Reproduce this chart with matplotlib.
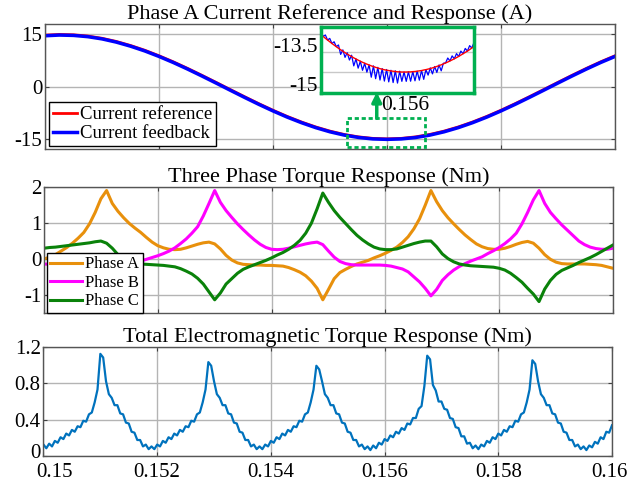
import numpy as np
import matplotlib.pyplot as plt
from matplotlib.patches import Rectangle
from matplotlib.transforms import ScaledTranslation

plt.rcParams['font.family'] = ['Liberation Serif', 'DejaVu Serif']

# ---- data ----
x_ticks = [0.15, 0.152, 0.154, 0.156, 0.158, 0.16]
x_tick_labels = ['0.15', '0.152', '0.154', '0.156', '0.158', '0.16']

# phase A current, 0.25 ms samples
t_cur = np.linspace(0.15, 0.16, 41)
current_ref = [14.80, 15.00, 14.90, 14.54, 13.90, 12.99, 11.83, 10.46, 8.88, 7.14,
               5.26, 3.28, 1.24, -0.83, -2.88, -4.88, -6.78, -8.56, -10.16, -11.58,
               -12.78, -13.74, -14.43, -14.86, -15.00, -14.86, -14.43, -13.73, -12.78, -11.58,
               -10.16, -8.55, -6.77, -4.87, -2.87, -0.82, 1.25, 3.29, 5.27, 7.15, 8.88]
current_fb = [14.62, 14.82, 14.72, 14.36, 13.72, 12.80, 11.63, 10.26, 8.68, 6.94,
              5.06, 3.08, 1.04, -1.03, -3.08, -5.08, -6.98, -8.76, -10.36, -11.78,
              -12.98, -13.92, -14.60, -15.02, -15.15, -15.02, -14.62, -13.93, -12.98, -11.78,
              -10.36, -8.75, -6.97, -5.07, -3.07, -1.02, 1.05, 3.09, 5.07, 6.95, 8.68]

# zoomed window around the current minimum
zoom_t = np.linspace(0.15487, 0.15693, 71)
zoom_ref = [-12.19, -12.33, -12.47, -12.60, -12.73, -12.86, -12.98, -13.10, -13.22, -13.33,
            -13.44, -13.55, -13.65, -13.75, -13.84, -13.94, -14.02, -14.11, -14.19, -14.27,
            -14.34, -14.41, -14.47, -14.54, -14.59, -14.65, -14.70, -14.75, -14.79, -14.83,
            -14.86, -14.89, -14.92, -14.94, -14.96, -14.98, -14.99, -15.00, -15.00, -15.00,
            -14.99, -14.99, -14.97, -14.96, -14.94, -14.91, -14.89, -14.85, -14.82, -14.78,
            -14.74, -14.69, -14.64, -14.58, -14.52, -14.46, -14.39, -14.32, -14.25, -14.17,
            -14.09, -14.01, -13.92, -13.83, -13.73, -13.63, -13.53, -13.43, -13.32, -13.20, -13.08]
zoom_fb = [-11.94, -12.33, -12.22, -12.60, -12.48, -12.86, -12.73, -13.10, -12.97, -13.68,
           -13.34, -13.90, -13.55, -14.10, -13.74, -14.54, -14.02, -14.71, -14.19, -14.87,
           -14.34, -15.01, -14.47, -15.39, -14.54, -15.50, -14.65, -15.60, -14.74, -15.68,
           -14.81, -15.74, -14.87, -15.79, -14.91, -15.83, -14.94, -15.70, -15.00, -15.70,
           -14.99, -15.69, -14.97, -15.66, -14.94, -15.61, -14.89, -15.55, -14.82, -15.23,
           -14.69, -15.14, -14.59, -15.03, -14.47, -14.91, -14.34, -14.32, -13.95, -14.17,
           -13.79, -14.01, -13.62, -13.83, -13.43, -13.63, -13.23, -13.43, -13.02, -13.20, -12.78]
zoom_box = (0.1553, 0.15667, -17.2, -9.1)

# phase torques, 0.1 ms samples
t_phase = np.linspace(0.15, 0.16, 101)
torque_a = [0.00, 0.05, 0.12, 0.22, 0.32, 0.44, 0.58, 0.74, 0.98, 1.30,
            1.68, 1.91, 1.55, 1.33, 1.15, 0.99, 0.86, 0.74, 0.60, 0.47,
            0.37, 0.31, 0.27, 0.26, 0.27, 0.31, 0.36, 0.41, 0.45, 0.47,
            0.42, 0.28, 0.10, -0.03, -0.11, -0.15, -0.16, -0.17, -0.17, -0.18,
            -0.18, -0.19, -0.20, -0.24, -0.30, -0.37, -0.47, -0.62, -0.82, -1.14,
            -0.85, -0.55, -0.38, -0.29, -0.21, -0.14, -0.09, -0.04, 0.03, 0.09,
            0.16, 0.24, 0.33, 0.46, 0.62, 0.84, 1.12, 1.50, 1.91, 1.60,
            1.35, 1.15, 0.98, 0.82, 0.67, 0.54, 0.42, 0.34, 0.29, 0.27,
            0.27, 0.30, 0.35, 0.41, 0.46, 0.49, 0.44, 0.30, 0.12, -0.01,
            -0.09, -0.13, -0.14, -0.14, -0.14, -0.14, -0.15, -0.16, -0.18, -0.22, -0.26]
torque_b = [-0.14, -0.15, -0.16, -0.17, -0.19, -0.23, -0.29, -0.37, -0.48, -0.63,
            -0.83, -1.04, -0.75, -0.45, -0.30, -0.20, -0.12, -0.06, -0.01, 0.04,
            0.09, 0.15, 0.22, 0.31, 0.43, 0.56, 0.72, 0.90, 1.20, 1.55,
            1.91, 1.58, 1.35, 1.16, 0.98, 0.82, 0.67, 0.53, 0.41, 0.32,
            0.27, 0.26, 0.27, 0.30, 0.34, 0.38, 0.42, 0.45, 0.47, 0.40,
            0.22, 0.05, -0.07, -0.13, -0.16, -0.17, -0.17, -0.17, -0.17, -0.17,
            -0.18, -0.20, -0.24, -0.28, -0.36, -0.50, -0.64, -0.82, -1.03, -0.85,
            -0.60, -0.44, -0.31, -0.21, -0.13, -0.06, 0.00, 0.06, 0.15, 0.23,
            0.32, 0.43, 0.56, 0.72, 0.98, 1.30, 1.65, 1.91, 1.55, 1.30,
            1.12, 0.95, 0.80, 0.65, 0.50, 0.40, 0.33, 0.29, 0.27, 0.27, 0.30]
torque_c = [0.30, 0.32, 0.33, 0.35, 0.37, 0.39, 0.41, 0.43, 0.45, 0.48,
            0.50, 0.44, 0.30, 0.12, -0.01, -0.09, -0.13, -0.14, -0.15, -0.16,
            -0.17, -0.18, -0.20, -0.22, -0.27, -0.34, -0.42, -0.54, -0.70, -0.92,
            -1.14, -0.95, -0.70, -0.55, -0.40, -0.29, -0.22, -0.16, -0.10, -0.04,
            0.03, 0.11, 0.18, 0.27, 0.38, 0.52, 0.72, 1.00, 1.40, 1.84,
            1.58, 1.35, 1.16, 0.99, 0.82, 0.66, 0.53, 0.42, 0.33, 0.28,
            0.26, 0.26, 0.28, 0.33, 0.38, 0.43, 0.47, 0.50, 0.50, 0.34,
            0.14, 0.01, -0.08, -0.14, -0.17, -0.19, -0.20, -0.21, -0.22, -0.23,
            -0.26, -0.31, -0.40, -0.52, -0.65, -0.82, -0.98, -1.19, -0.84, -0.60,
            -0.43, -0.32, -0.25, -0.18, -0.10, -0.03, 0.04, 0.12, 0.21, 0.30, 0.39]

# total torque, 0.05 ms samples
t_total = np.linspace(0.15, 0.16, 201)
torque_total = [0.13, 0.09, 0.14, 0.11, 0.17, 0.15, 0.21, 0.19, 0.25, 0.23,
                0.29, 0.27, 0.33, 0.32, 0.39, 0.38, 0.46, 0.48, 0.59, 0.73,
                1.12, 1.08, 0.82, 0.68, 0.64, 0.56, 0.56, 0.47, 0.46, 0.37,
                0.36, 0.27, 0.26, 0.18, 0.18, 0.11, 0.13, 0.08, 0.11, 0.08,
                0.13, 0.11, 0.17, 0.15, 0.21, 0.19, 0.25, 0.23, 0.29, 0.27,
                0.33, 0.32, 0.39, 0.38, 0.46, 0.48, 0.59, 0.73, 1.03, 0.99,
                0.82, 0.68, 0.64, 0.56, 0.56, 0.47, 0.46, 0.37, 0.36, 0.27,
                0.26, 0.18, 0.18, 0.11, 0.13, 0.08, 0.11, 0.08, 0.13, 0.11,
                0.17, 0.15, 0.21, 0.19, 0.25, 0.23, 0.29, 0.27, 0.33, 0.32,
                0.39, 0.38, 0.46, 0.48, 0.59, 0.73, 0.99, 0.95, 0.82, 0.68,
                0.64, 0.56, 0.56, 0.47, 0.46, 0.37, 0.36, 0.27, 0.26, 0.18,
                0.18, 0.11, 0.13, 0.08, 0.11, 0.07, 0.12, 0.09, 0.15, 0.13,
                0.19, 0.17, 0.23, 0.21, 0.27, 0.25, 0.31, 0.29, 0.36, 0.35,
                0.42, 0.42, 0.52, 0.55, 0.77, 1.10, 1.06, 0.78, 0.72, 0.60,
                0.60, 0.52, 0.51, 0.42, 0.41, 0.32, 0.31, 0.22, 0.22, 0.14,
                0.15, 0.09, 0.12, 0.08, 0.13, 0.11, 0.17, 0.15, 0.21, 0.19,
                0.25, 0.23, 0.29, 0.27, 0.33, 0.32, 0.39, 0.38, 0.46, 0.48,
                0.59, 0.73, 1.05, 1.01, 0.82, 0.68, 0.64, 0.56, 0.56, 0.47,
                0.46, 0.37, 0.36, 0.27, 0.26, 0.18, 0.18, 0.11, 0.13, 0.08,
                0.11, 0.07, 0.12, 0.10, 0.16, 0.14, 0.21, 0.19, 0.27, 0.26, 0.34]

GREEN = '#00B050'


def style_axes(ax, yticks, ylabels, ylim, show_x=False):
    ax.set_xlim(0.15, 0.16)
    ax.set_ylim(*ylim)
    ax.set_xticks(x_ticks)
    ax.set_xticklabels(x_tick_labels)
    ax.set_yticks(yticks)
    ax.set_yticklabels(ylabels)
    ax.grid(True, color='#b4b4b4', lw=1)
    ax.set_axisbelow(True)
    ax.tick_params(direction='in', length=3, top=True, right=True, labelsize=15,
                   pad=2, color='#404040', labelbottom=show_x)
    for s in ax.spines.values():
        s.set_color('#555555')
        s.set_linewidth(1)


def shift_label(fig, label, dx, dy):
    # nudge a tick label by dx, dy pixels
    label.set_transform(label.get_transform() +
                        ScaledTranslation(dx / fig.dpi, dy / fig.dpi, fig.dpi_scale_trans))


fig = plt.figure(figsize=(6.33, 4.86), dpi=100)

#Phase A current
ax1 = fig.add_axes([0.0711, 0.6928, 0.9005, 0.2578])
ax1.plot(t_cur, current_ref, color='red', lw=2, label='Current reference')
ax1.plot(t_cur, current_fb, color='blue', lw=2.5, label='Current feedback')
style_axes(ax1, [-15, 0, 15], ['-15', '0', '15'], (-18, 18))
ax1.set_title('Phase A Current Reference and Response (A)', fontsize=16, pad=1)
ax1.legend(loc='lower left', bbox_to_anchor=(0.007, 0.026), borderaxespad=0,
           fontsize=13.5, handlelength=1.3, handletextpad=0.15, labelspacing=0.1,
           borderpad=0.2, fancybox=False, edgecolor='black', framealpha=1)
ax1.add_patch(Rectangle((zoom_box[0], zoom_box[2]), zoom_box[1] - zoom_box[0],
                        zoom_box[3] - zoom_box[2], fill=False, ec=GREEN, lw=2,
                        ls=(0, (1.5, 1)), clip_on=False, zorder=5))
ax1.annotate('', xy=(0.15582, -1.6), xytext=(0.15582, zoom_box[3]),
             arrowprops=dict(arrowstyle='-|>', color=GREEN, lw=2.5,
                             mutation_scale=14, shrinkA=0, shrinkB=0))

#zoom inset
axin = fig.add_axes([0.5071, 0.8086, 0.2417, 0.1358])
axin.plot(zoom_t, zoom_fb, color='blue', lw=0.9)
axin.plot(zoom_t, zoom_ref, color='red', lw=1)
axin.set_xlim(zoom_t[0], zoom_t[-1])
axin.set_ylim(-16.575, -11.625)
axin.set_yticks([-13.5, -15])
axin.set_yticklabels(['-13.5', '-15'])
axin.set_xticks([0.156])
axin.set_xticklabels(['0.156'])
axin.grid(True, axis='y', color='#c8c8c8', lw=1)
axin.tick_params(length=0, labelsize=15.5, pad=2)
for s in axin.spines.values():
    s.set_color(GREEN)
    s.set_linewidth(2.5)
ylabs = axin.get_yticklabels()
shift_label(fig, ylabs[0], 0, 7)
shift_label(fig, ylabs[1], 0, -12)

#Three phase torque
ax2 = fig.add_axes([0.0695, 0.3566, 0.8989, 0.2580])
ax2.plot(t_phase, torque_a, color='#E8900C', lw=2.2, label='Phase A')
ax2.plot(t_phase, torque_b, color='#FF00FF', lw=2.2, label='Phase B')
ax2.plot(t_phase, torque_c, color='#0A820A', lw=2.2, label='Phase C')
style_axes(ax2, [-1, 0, 1, 2], ['-1', '0', '1', '2'], (-1.5, 2))
ax2.set_title('Three Phase Torque Response (Nm)', fontsize=16, pad=3.5)
ax2.legend(loc='lower left', bbox_to_anchor=(0.005, 0.0), borderaxespad=0,
           fontsize=12, handlelength=1.9, handletextpad=0.2, labelspacing=0.15,
           borderpad=0.2, fancybox=False, edgecolor='black', framealpha=1)

#Total torque
ax3 = fig.add_axes([0.0687, 0.0607, 0.8981, 0.2263])
ax3.plot(t_total, torque_total, color='#0072BD', lw=1.6)
style_axes(ax3, [0, 0.4, 0.8, 1.2], ['0', '0.4', '0.8', '1.2'], (0, 1.2), show_x=True)
ax3.tick_params(axis='x', pad=5)
ax3.set_title('Total Electromagnetic Torque Response (Nm)', fontsize=16, pad=3.5)
xlabs = ax3.get_xticklabels()
shift_label(fig, xlabs[0], 11, 0)
shift_label(fig, xlabs[-1], -3, 0)
shift_label(fig, ax3.get_yticklabels()[0], 0, 5)

fig.savefig('out.png', dpi=100)
